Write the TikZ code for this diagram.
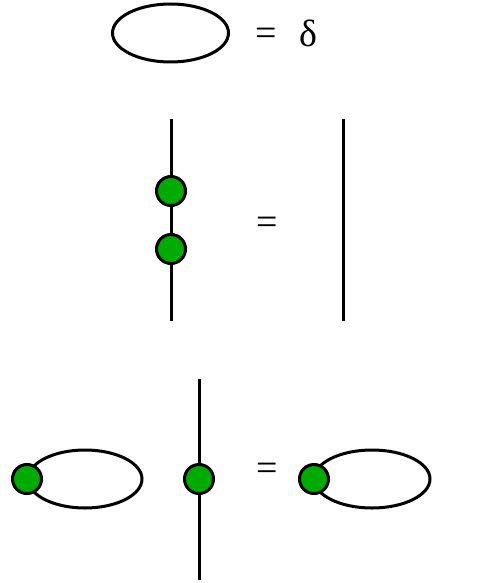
\documentclass[tikz,border=0pt]{standalone}
\usepackage{fontspec}
\setmainfont{Liberation Serif}
\begin{document}
\begin{tikzpicture}[x=1pt,y=-1pt,
  wire/.style={line width=3pt,black},
  dot/.style={circle,draw,fill=green!67!black,line width=3pt,minimum size=29pt,inner sep=0pt},
  eqsign/.style={font=\fontsize{38}{44}\selectfont,inner sep=0pt}]
\useasboundingbox (0,0) rectangle (481,583);
% top row
\draw[wire] (170.5,33) ellipse [x radius=58, y radius=29];
\node[eqsign] (eq1) at (266,37) {=};
\node[eqsign] (d) at (308,33) {δ};
% middle row
\coordinate (m1top) at (171,119);
\coordinate (m1bot) at (171,321);
\node[dot] (c1) at (171,191) {};
\node[dot] (c2) at (171,249) {};
\draw[wire] (m1top) -- (c1) -- (c2) -- (m1bot);
\node[eqsign] (eq2) at (267,226) {=};
\coordinate (m2top) at (343,119);
\coordinate (m2bot) at (343,321);
\draw[wire] (m2top) -- (m2bot);
% bottom row
\draw[wire] (85,479) ellipse [x radius=57, y radius=29];
\node[dot] (b1) at (27,479) {};
\coordinate (vtop) at (199,379);
\coordinate (vbot) at (199,580);
\draw[wire] (vtop) -- (vbot);
\node[dot] (b2) at (199,479) {};
\node[eqsign] (eq3) at (267,472) {=};
\draw[wire] (372,479) ellipse [x radius=58, y radius=29];
\node[dot] (b3) at (314,479) {};
\end{tikzpicture}
\end{document}
